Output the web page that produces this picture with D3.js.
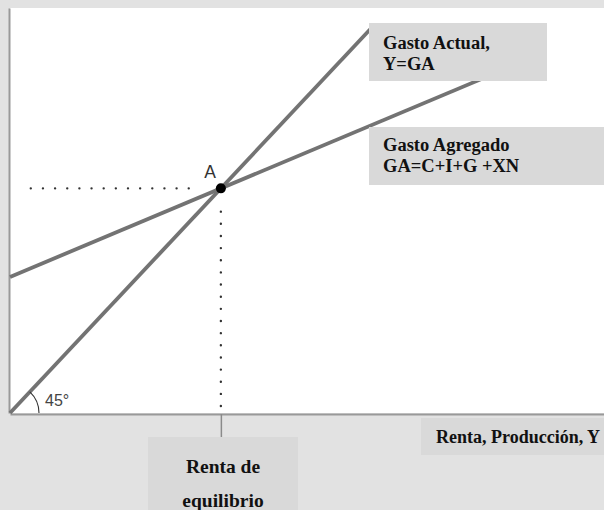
<!DOCTYPE html>
<html>
<head>
<meta charset="utf-8">
<script src="https://cdn.jsdelivr.net/npm/d3@7"></script>
<style>
  html, body { margin: 0; padding: 0; background: #e2e2e2; }
  svg { display: block; }
</style>
</head>
<body>
<div id="chart"></div>
<script>
// ---- Data (conceptual units) ----
const actualX = [0, 61];            // Gasto Actual, Y = GA (45° line)
const actualY = [0, 61];
const agregadoX = [0, 85];          // Gasto Agregado GA = C+I+G+XN
const agregadoY = [21.5, 55.0];
const equilibrium = [35.5, 35.5];   // point A
const hDotX = [3.5, 32.1];          // horizontal dotted guide (x extent)
const vDotY = [1.1, 31.9];          // vertical dotted guide (y extent)
const boxLabels = [["Gasto Actual,", "Y=GA"], ["Gasto Agregado", "GA=C+I+G +XN"]];
const xAxisLabel = "Renta, Producción, Y";
const eqLabel = ["Renta de", "equilibrio"];
const pointLabel = "A";
const angleLabel = "45°";

const W = 604, H = 510;
const svg = d3.select("#chart").append("svg").attr("width", W).attr("height", H);
svg.append("rect").attr("width", W).attr("height", H).attr("fill", "#e2e2e2");

const x = d3.scaleLinear().domain([0, 100]).range([10, 604]);
const y = d3.scaleLinear().domain([0, 64]).range([413, 8]);

// plot area
svg.append("rect").attr("x", x(0)).attr("y", y(64)).attr("width", x(100) - x(0)).attr("height", y(0) - y(64)).attr("fill", "#ffffff");

// axes
const xAxis = svg.append("g").attr("transform", `translate(0,${y(0) + 1})`)
  .call(d3.axisBottom(x).tickValues([equilibrium[0]]).tickFormat("").tickSize(23).tickSizeOuter(0));
xAxis.select(".domain").attr("stroke", "#999").attr("stroke-width", 2);
xAxis.selectAll(".tick line").attr("stroke", "#8a8a8a").attr("stroke-width", 1.5);

const yAxis = svg.append("g").attr("transform", `translate(${x(0) - 1},0)`)
  .call(d3.axisLeft(y).tickValues([]).tickSizeOuter(0));
yAxis.select(".domain").attr("stroke", "#999").attr("stroke-width", 2);

// dotted guides
const dotted = (sel) => sel.attr("stroke", "#333").attr("stroke-width", 2.4)
  .attr("stroke-linecap", "round").attr("stroke-dasharray", "0,12.15").attr("fill", "none");
svg.append("line")
  .attr("x1", x(hDotX[0])).attr("x2", x(hDotX[1]))
  .attr("y1", y(equilibrium[1])).attr("y2", y(equilibrium[1])).call(dotted);
svg.append("line")
  .attr("x1", x(equilibrium[0])).attr("x2", x(equilibrium[0]))
  .attr("y1", y(vDotY[0])).attr("y2", y(vDotY[1])).call(dotted);

// lines
const lineGen = d3.line().x(d => x(d[0])).y(d => y(d[1]));
svg.append("path").datum(d3.zip(actualX, actualY)).attr("d", lineGen)
  .attr("stroke", "#737373").attr("stroke-width", 3.8).attr("fill", "none");
svg.append("path").datum(d3.zip(agregadoX, agregadoY)).attr("d", lineGen)
  .attr("stroke", "#737373").attr("stroke-width", 3.8).attr("fill", "none");

// 45° arc
const ang = Math.atan2(y(0) - y(actualY[1]), x(actualX[1]) - x(0));
const p = d3.path();
const r = 29;
p.moveTo(x(0) + r * Math.cos(-ang), y(0) + r * Math.sin(-ang));
p.arc(x(0), y(0), r, -ang, 0, false);
svg.append("path").attr("d", p.toString()).attr("stroke", "#333").attr("stroke-width", 1.1).attr("fill", "none");
svg.append("text").attr("x", 45).attr("y", 406).text(angleLabel)
  .attr("font-family", "Liberation Sans, Arial, sans-serif").attr("font-size", 16).attr("fill", "#444");

// point A
svg.append("circle").attr("cx", x(equilibrium[0])).attr("cy", y(equilibrium[1])).attr("r", 5).attr("fill", "#000");
svg.append("text").attr("x", x(equilibrium[0]) - 16.5).attr("y", y(equilibrium[1]) - 10.5).text(pointLabel)
  .attr("font-family", "Liberation Sans, Arial, sans-serif").attr("font-size", 17.5).attr("fill", "#333");

// label boxes
const serif = "Liberation Serif, Times New Roman, serif";
const boxes = [
  { x: 369, y: 23, w: 178, h: 58, lines: boxLabels[0], tx: 383, ty: [49, 70], size: 18.5, anchor: "start" },
  { x: 369, y: 127, w: 235, h: 58, lines: boxLabels[1], tx: 383, ty: [150.5, 171.5], size: 18.5, anchor: "start" },
  { x: 421, y: 418, w: 183, h: 37, lines: [xAxisLabel], tx: 436, ty: [443], size: 18, anchor: "start" },
  { x: 148, y: 437, w: 150, h: 73, lines: eqLabel, tx: 223, ty: [473, 507], size: 19.5, anchor: "middle" }
];
boxes.forEach(b => {
  svg.append("rect").attr("x", b.x).attr("y", b.y).attr("width", b.w).attr("height", b.h).attr("fill", "#d9d9d9");
  b.lines.forEach((t, i) => {
    svg.append("text").attr("x", b.tx).attr("y", b.ty[i]).text(t)
      .attr("text-anchor", b.anchor)
      .attr("font-family", serif).attr("font-weight", "bold").attr("font-size", b.size).attr("fill", "#111");
  });
});
</script>
</body>
</html>
